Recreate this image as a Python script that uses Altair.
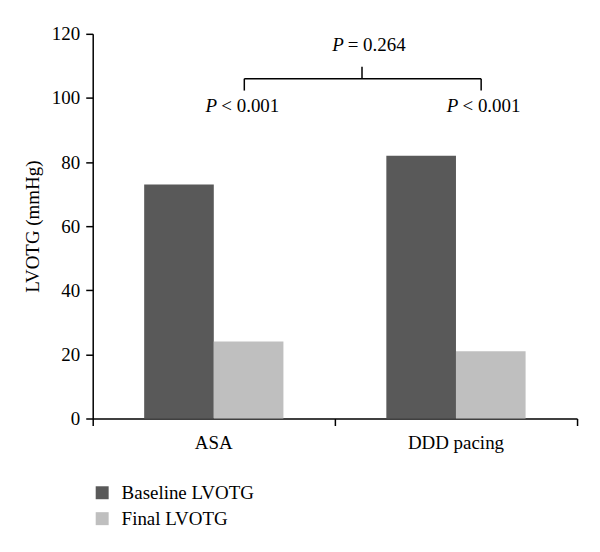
import altair as alt
import pandas as pd

# ---- data ----
groups = ["ASA", "DDD pacing"]
series = ["Baseline LVOTG", "Final LVOTG"]
baseline = [73, 82]
final = [24, 21]
y_ticks = [0, 20, 40, 60, 80, 100, 120]
colors = ["#595959", "#bfbfbf"]

# annotation texts (italic "P" + rest), in group units (0..2) and mmHg
p_italic = ["P", "P", "P"]
p_rest = ["< 0.001", "< 0.001", "= 0.264"]
p_x_end = [0.514, 1.510, 1.037]
p_x_start = [0.531, 1.527, 1.053]
p_y = [95.75, 95.75, 114.5]

# bracket segments
seg_x = [0.626, 0.626, 1.604, 1.112]
seg_x2 = [1.604, 0.626, 1.604, 1.112]
seg_y = [106, 106, 106, 106]
seg_y2 = [106, 102.3, 102.3, 109.7]

axis_tick_pos = [0, 1, 2]

FONT = "Liberation Serif"
FS = 19

rows = []
for g, b, f in zip(groups, baseline, final):
    rows.append({"group": g, "series": series[0], "value": b})
    rows.append({"group": g, "series": series[1], "value": f})
bars_df = pd.DataFrame(rows)

seg_df = pd.DataFrame({"x": seg_x, "x2": seg_x2, "y": seg_y, "y2": seg_y2})
txt_df = pd.DataFrame({"pi": p_italic, "rest": p_rest, "xe": p_x_end,
                       "xs": p_x_start, "y": p_y})

yscale = alt.Scale(domain=[0, 120], nice=False, zero=True)
xq = alt.Scale(domain=[0, 2], nice=False, zero=False)

yaxis = alt.Axis(values=y_ticks, title="LVOTG (mmHg)", grid=False,
                 domainColor="black", domainWidth=1.5,
                 tickColor="black", tickWidth=1.5, tickSize=7,
                 labelPadding=6, labelFont=FONT, labelFontSize=FS,
                 labelColor="black", titleFont=FONT, titleFontSize=FS,
                 titleFontWeight="normal", titleColor="black",
                 titlePadding=9)

bars = alt.Chart(bars_df).mark_bar().encode(
    x=alt.X("group:N", sort=groups,
            scale=alt.Scale(paddingInner=0.425, paddingOuter=0.2125),
            axis=alt.Axis(orient="bottom", title=None, domain=False, ticks=False,
                          tickSize=0, labelPadding=15, labelAngle=0,
                          labelFont=FONT, labelFontSize=FS, labelColor="black")),
    xOffset=alt.XOffset("series:N", sort=series),
    y=alt.Y("value:Q", scale=yscale, axis=yaxis),
    color=alt.Color("series:N", scale=alt.Scale(domain=series, range=colors),
                    legend=alt.Legend(orient="none", legendX=0, legendY=451,
                                      title=None, symbolType="square",
                                      symbolSize=169, symbolStrokeWidth=0,
                                      labelFont=FONT, labelFontSize=FS,
                                      labelColor="black", rowPadding=6,
                                      labelOffset=10, padding=0,
                                      direction="vertical")),
)

rules = alt.Chart(seg_df).mark_rule(color="black", strokeWidth=1.5).encode(
    x=alt.X("x:Q", scale=xq,
            axis=alt.Axis(orient="bottom", values=axis_tick_pos, labels=False,
                          title=None, grid=False, domain=True, ticks=True,
                          tickSize=7, domainColor="black", domainWidth=1.5,
                          tickColor="black", tickWidth=1.5)),
    x2="x2:Q",
    y=alt.Y("y:Q", scale=yscale, axis=yaxis),
    y2="y2:Q",
)

t_it = alt.Chart(txt_df).mark_text(font=FONT, fontSize=FS, fontStyle="italic",
                                   align="right", baseline="alphabetic",
                                   color="black").encode(
    x=alt.X("xe:Q", scale=xq, axis=None),
    y=alt.Y("y:Q", scale=yscale, axis=yaxis),
    text="pi:N",
)

t_rest = alt.Chart(txt_df).mark_text(font=FONT, fontSize=FS,
                                     align="left", baseline="alphabetic",
                                     color="black").encode(
    x=alt.X("xs:Q", scale=xq, axis=None),
    y=alt.Y("y:Q", scale=yscale, axis=yaxis),
    text="rest:N",
)

chart = alt.layer(bars, rules, t_it, t_rest).resolve_scale(
    x="independent"
).properties(
    width=486, height=386,
    padding={"left": 85, "top": 25, "right": 15, "bottom": 120},
    autosize=alt.AutoSizeParams(type="none"),
    background="white",
).configure_view(stroke=None)

chart.save("out.html", embed_options={"renderer": "svg", "actions": False})
